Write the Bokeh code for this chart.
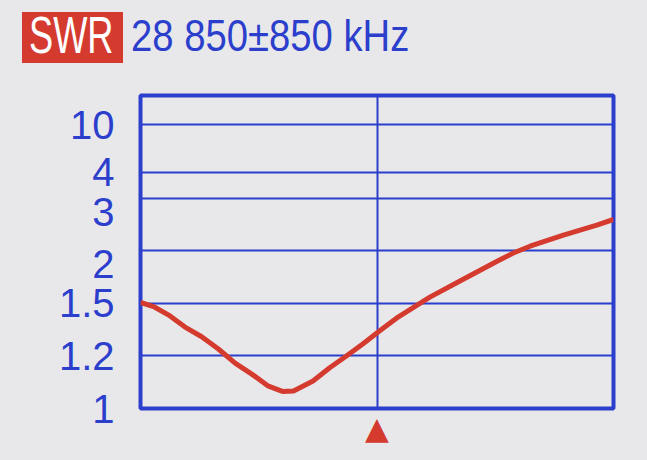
import numpy as np
from bokeh.plotting import figure
from bokeh.models import FixedTicker, Range1d, Div
from bokeh.layouts import column
from bokeh.embed import file_html
from bokeh.resources import INLINE

# ---- data ----
freq_khz = [28000, 28050, 28100, 28160, 28220, 28280, 28340, 28400, 28460, 28510,
            28550, 28620, 28680, 28740, 28800, 28860, 28920, 28980, 29040, 29160,
            29280, 29340, 29400, 29520, 29640, 29700]
swr = [1.51, 1.48, 1.435, 1.365, 1.31, 1.24, 1.173, 1.131, 1.085, 1.065,
       1.067, 1.105, 1.155, 1.2, 1.27, 1.344, 1.416, 1.476, 1.56, 1.73,
       1.9, 1.98, 2.09, 2.30, 2.49, 2.6]
swr_ticks = [1, 1.2, 1.5, 2, 3, 4, 10]
tick_labels = ["1", "1.2", "1.5", "2", "3", "4", "10"]
labels_below_line = {"2", "3"}   # on the device these labels sit under their grid line
center_khz = 28850
span_khz = 850

# ---- the analyser's non-linear SWR scale (grid steps) ----
scale_steps = [0, 1, 2, 3, 4, 4.5, 5.4]
scale_top = 5.96

def to_scale(v):
    return np.interp(v, swr_ticks, scale_steps)

BLUE = "#2b3fcc"
RED = "#d53a2f"
BG = "#e8e8eb"
FONT = "Liberation Sans"

header_text = f"{center_khz // 1000} {center_khz % 1000}±{span_khz} kHz"
header = Div(
    width=647, height=87, margin=0,
    styles={"background-color": BG},
    text=(
        f'<div style="position:relative;width:647px;height:87px;background:{BG};font-family:\'{FONT}\';">'
        f'<div style="position:absolute;left:22px;top:12px;width:101px;height:51px;'
        f'background:{RED};"></div>'
        f'<div style="position:absolute;left:29px;top:6px;color:white;font-size:51px;'
        f'line-height:60px;white-space:nowrap;transform:scaleX(0.71);transform-origin:left;">SWR</div>'
        f'<div style="position:absolute;left:131px;top:10px;color:{BLUE};font-size:45px;'
        f'line-height:52px;white-space:nowrap;transform:scaleX(0.85);transform-origin:left;">'
        f'{header_text}</div>'
        f'</div>'
    ),
)

p = figure(width=647, height=373, output_backend="svg", toolbar_location=None,
           x_range=Range1d(center_khz - span_khz, center_khz + span_khz),
           y_range=Range1d(0, scale_top), margin=0,
           min_border_left=140, min_border_right=34, min_border_top=8, min_border_bottom=52)
p.background_fill_color = BG
p.border_fill_color = BG
p.outline_line_color = BLUE
p.outline_line_width = 4

# x axis: only the centre-frequency marker
xax = p.xaxis[0]
xax.ticker = FixedTicker(ticks=[center_khz])
xax.major_label_overrides = {center_khz: "▲"}
xax.axis_line_color = None
xax.major_tick_line_color = None
xax.minor_tick_line_color = None
xax.major_tick_out = 0
xax.major_tick_in = 0
xax.major_label_standoff = 1
xax.major_label_text_font = "DejaVu Sans"
xax.major_label_text_font_size = "31px"
xax.major_label_text_color = RED
p.xgrid.ticker = FixedTicker(ticks=[center_khz])
p.xgrid.grid_line_color = BLUE
p.xgrid.grid_line_width = 2

yax = p.yaxis[0]
yax.ticker = FixedTicker(ticks=scale_steps)
yax.major_label_overrides = {
    s: ("\n" + t if t in labels_below_line else t) for s, t in zip(scale_steps, tick_labels)
}
yax.axis_line_color = None
yax.major_tick_line_color = None
yax.minor_tick_line_color = None
yax.major_tick_out = 0
yax.major_tick_in = 0
yax.major_label_standoff = 26
yax.major_label_text_font = FONT
yax.major_label_text_font_size = "40px"
yax.major_label_text_line_height = 0.6
yax.major_label_text_color = BLUE
p.ygrid.grid_line_color = BLUE
p.ygrid.grid_line_width = 2

p.line(freq_khz, to_scale(swr), line_color=RED, line_width=5)

layout = column(header, p, spacing=0, margin=0, styles={"background-color": BG})
open("out.html", "w").write(file_html(layout, INLINE))
